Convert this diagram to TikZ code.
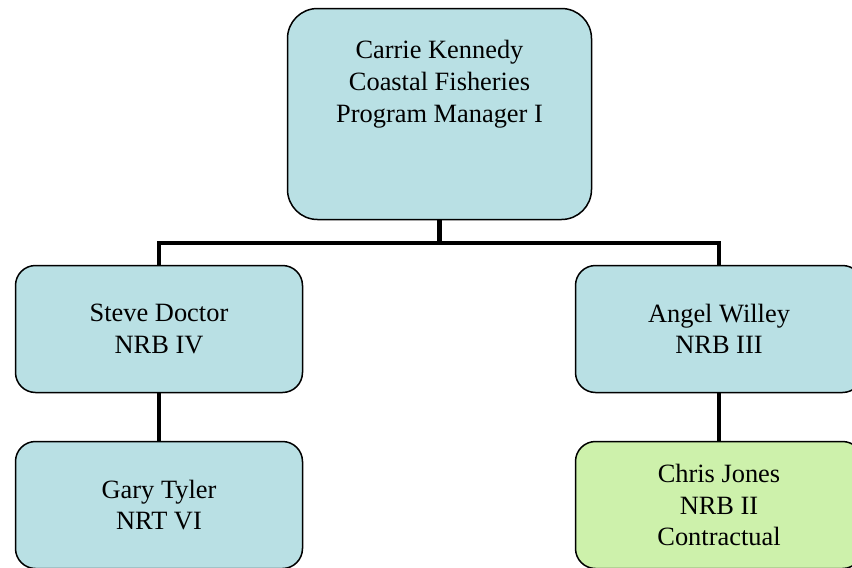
\documentclass[tikz,border=0pt]{standalone}
\usepackage{fontspec}
\setmainfont{Liberation Serif}
\definecolor{boxblue}{RGB}{185,224,228}
\definecolor{boxgreen}{RGB}{205,241,171}
\tikzset{
  orgbox/.style={draw=black, line width=1.5pt, fill=boxblue, rounded corners=20pt,
    minimum width=287pt, minimum height=127pt, inner sep=0pt, align=center,
    font=\fontsize{26.4}{31.7}\selectfont},
  topbox/.style={orgbox, minimum width=304pt, minimum height=211pt, rounded corners=30pt},
  boxtext/.style={align=center, inner sep=0pt, font=\fontsize{26.4}{31.7}\selectfont},
  conn/.style={draw=black, line width=4.5pt}
}
\begin{document}
\begin{tikzpicture}[x=1pt,y=-1pt]
\useasboundingbox (0,0) rectangle (852,568);
\clip (0,0) rectangle (852,568);
\node[topbox] (top) at (439.5,114) {};
\node[boxtext] (toptext) at (439.5,84) {Carrie Kennedy\\Coastal Fisheries\\Program Manager I};
\node[orgbox] (steve) at (159,329) {Steve Doctor\\NRB IV};
\node[orgbox] (angel) at (719,329) {Angel Willey\\NRB III};
\node[orgbox] (gary) at (159,505) {Gary Tyler\\NRT VI};
\node[orgbox, fill=boxgreen] (chris) at (719,505) {Chris Jones\\NRB II\\Contractual};
\coordinate (bus) at (439.5,243);
\draw[conn] (top.south) -- (bus);
\draw[conn] (steve.north) |- (bus) -| (angel.north);
\draw[conn] (steve.south) -- (gary.north);
\draw[conn] (angel.south) -- (chris.north);
\end{tikzpicture}
\end{document}
